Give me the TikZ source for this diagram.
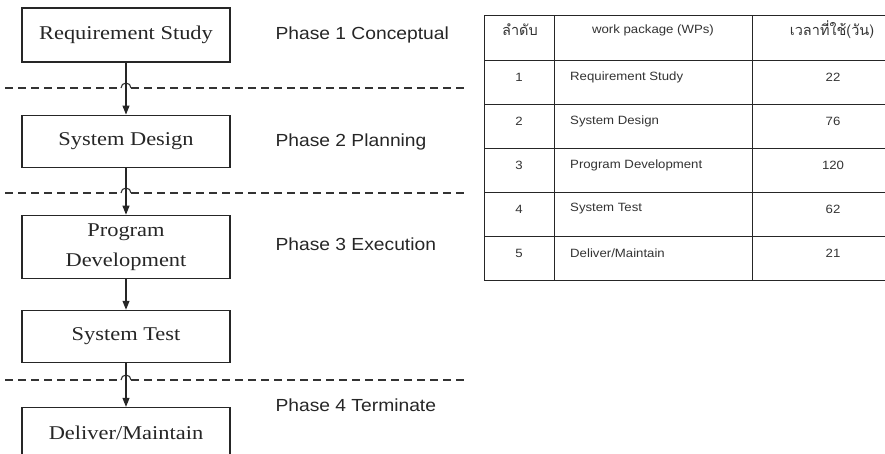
\documentclass[tikz,border=0pt]{standalone}
\usepackage{fontspec}
\setmainfont{Liberation Serif}[FakeStretch=1.15]
\newfontfamily\phasefont{Liberation Sans}[FakeStretch=1.1]
\newfontfamily\thaifont{Loma}[Script=Thai]
\usepackage{tikz}
\usetikzlibrary{positioning, arrows.meta}

\begin{document}
\begin{tikzpicture}[
    x=1pt, y=1pt,
    box/.style={draw=black!85, rectangle, minimum width=208pt, minimum height=52pt, align=center, inner sep=0pt, line width=1.1pt, text=black!85, font=\fontsize{19.5}{30}\selectfont},
    phase/.style={anchor=west, text=black!85, font=\phasefont\fontsize{17.5}{21}\selectfont},
    arrow/.style={-{Triangle[length=9pt,width=7pt]}, line width=1.1pt, draw=black!85},
    sepline/.style={draw=black!80, line width=1.2pt, dash pattern=on 8pt off 5pt},
    grid/.style={draw=black!85, line width=1pt},
    cell/.style={inner sep=0pt, text=black!80, font=\phasefont\fontsize{12}{14}\selectfont},
    thaicell/.style={cell, font=\thaifont\fontsize{14.5}{16}\selectfont}
]
\useasboundingbox (0,0) rectangle (885,-453);

% Work packages
\node[box, minimum height=54pt] (req) at (126,-35) {Requirement Study};
\node[box, below=52pt of req] (design) {System Design};
\node[box, below=47pt of design, minimum height=63pt] (prog) {Program\\Development};
\node[box, below=31pt of prog] (test) {System Test};
\node[box, below=44pt of test, minimum height=50pt] (deliver) {Deliver/Maintain};

% Phases
\node[phase] (ph1) at (272,-35) {Phase 1 Conceptual};
\node[phase] (ph2) at (272,-142) {Phase 2 Planning};
\node[phase] (ph3) at (272,-244) {Phase 3 Execution};
\node[phase] (ph4) at (272,-405) {Phase 4 Terminate};

% Phase borders, with a jump over the arrow
\foreach \y in {88,193,380} {
  \draw[sepline] (5,-\y) -- (121,-\y);
  \draw[sepline] (131,-\y) -- (465,-\y);
  \draw[black!80, line width=1.1pt] (121,-\y) arc (180:0:5pt);
}

% Edges
\draw[arrow] (req) -- (design);
\draw[arrow] (design) -- (prog);
\draw[arrow] (prog) -- (test);
\draw[arrow] (test) -- (deliver);

% Table
\foreach \y in {15,60,104,148,192,236,280}
  \draw[grid] (484,-\y) -- (885,-\y);
\foreach \x in {484,554,752}
  \draw[grid] (\x,-15) -- (\x,-280);

\node[thaicell] (hno) at (520,-30) {ลำดับ};
\node[cell] (hwp) at (653,-30) {work package (WPs)};
\node[thaicell] (hday) at (832,-30) {เวลาที่ใช้(วัน)};

\foreach \n/\wp/\d in {1/Requirement Study/22, 2/System Design/76, 3/Program Development/120, 4/System Test/62, 5/{Deliver/Maintain}/21} {
  \node[cell] (no\n) at (519,{-77-44*(\n-1)}) {\n};
  \node[cell, anchor=west] (wp\n) at (570,{-77-44*(\n-1)}) {\wp};
  \node[cell] (day\n) at (833,{-77-44*(\n-1)}) {\d};
}
\end{tikzpicture}
\end{document}
